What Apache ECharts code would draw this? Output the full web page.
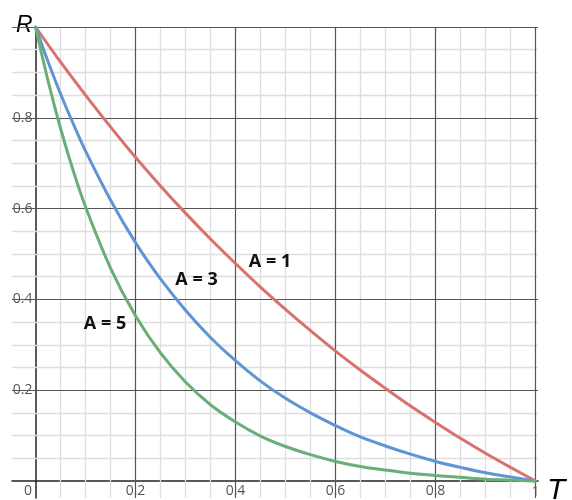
<!DOCTYPE html>
<html>
<head>
<meta charset="utf-8">
<script src="https://cdn.jsdelivr.net/npm/echarts@6/dist/echarts.min.js"></script>
<style>
  html, body { margin: 0; padding: 0; background: #fff; }
  #chart { width: 572px; height: 500px; }
</style>
</head>
<body>
<div id="chart"></div>
<script>
// Sample points along T for each curve
const tA1 = [0, 0.05, 0.1, 0.15, 0.2, 0.25, 0.3, 0.35, 0.4, 0.45, 0.5, 0.55, 0.6, 0.65, 0.7, 0.75, 0.8, 0.85, 0.9, 0.95, 1];
const rA1 = [1, 0.923, 0.850, 0.780, 0.713, 0.650, 0.590, 0.533, 0.479, 0.427, 0.378, 0.331, 0.286, 0.244, 0.204, 0.165, 0.129, 0.094, 0.061, 0.030, 0];

const tA3 = [0, 0.025, 0.05, 0.075, 0.1, 0.15, 0.2, 0.25, 0.3, 0.35, 0.4, 0.45, 0.5, 0.55, 0.6, 0.65, 0.7, 0.75, 0.8, 0.85, 0.9, 0.95, 1];
const rA3 = [1, 0.924, 0.853, 0.788, 0.727, 0.619, 0.525, 0.445, 0.376, 0.316, 0.265, 0.220, 0.182, 0.150, 0.122, 0.097, 0.077, 0.059, 0.043, 0.030, 0.018, 0.009, 0];

const tA5 = [0, 0.025, 0.05, 0.075, 0.1, 0.15, 0.2, 0.25, 0.3, 0.35, 0.4, 0.45, 0.5, 0.55, 0.6, 0.65, 0.7, 0.75, 0.8, 0.85, 0.9, 0.95, 1];
const rA5 = [1, 0.882, 0.777, 0.685, 0.604, 0.469, 0.364, 0.282, 0.218, 0.168, 0.130, 0.099, 0.076, 0.058, 0.043, 0.032, 0.024, 0.017, 0.012, 0.008, 0.004, 0.002, 0];

// Curve names and where their captions sit (data coordinates)
const curveNames = ['A = 1', 'A = 3', 'A = 5'];
const captionAt = [[0.469, 0.4835], [0.322, 0.4427], [0.139, 0.3458]];

// Tick values
const xTicks = [0, 0.2, 0.4, 0.6, 0.8, 1];
const yTicks = [0.2, 0.4, 0.6, 0.8];
const minorX = [0.05, 0.1, 0.15, 0.25, 0.3, 0.35, 0.45, 0.5, 0.55, 0.65, 0.7, 0.75, 0.85, 0.9, 0.95];
const minorY = [0.05, 0.1, 0.15, 0.25, 0.3, 0.35, 0.45, 0.5, 0.55, 0.65, 0.7, 0.75, 0.85, 0.9, 0.95];
const majorX = [0.2, 0.4, 0.6, 0.8, 1];
const majorY = [0.2, 0.4, 0.6, 0.8, 1];

const colors = ['#d9716f', '#5d96d4', '#68ae76'];

const X_MIN = -0.047, X_MAX = 1.005;
const X_END = xTicks[xTicks.length - 1];

const tickFont = { color: '#555', fontFamily: 'Open Sans', fontSize: 14 };

function pairs(xs, ys) { return xs.map((x, i) => [x, ys[i]]); }

function gridLines(xs, ys, color, width) {
  return {
    type: 'line',
    data: [],
    silent: true,
    z: 1,
    markLine: {
      silent: true,
      symbol: ['none', 'none'],
      animation: false,
      label: { show: false },
      lineStyle: { color: color, width: width, type: 'solid' },
      emphasis: { disabled: true },
      data: xs.map(v => ({ xAxis: v })).concat(ys.map(v => ({ yAxis: v })))
    }
  };
}

// Tick label for the far end of the T axis, placed under the axis at T = 1
function endTickLabel() {
  return {
    type: 'scatter',
    data: [[X_END, 0]],
    silent: true,
    z: 3,
    symbol: 'circle',
    symbolSize: 1,
    itemStyle: { color: 'rgba(0,0,0,0)' },
    emphasis: { disabled: true },
    label: Object.assign({
      show: true,
      position: 'inside',
      offset: [0, 11],
      formatter: String(X_END)
    }, tickFont)
  };
}

function curve(i, xs, ys) {
  return {
    type: 'line',
    name: curveNames[i],
    data: pairs(xs, ys),
    smooth: 0.3,
    showSymbol: false,
    z: 5,
    lineStyle: { color: colors[i], width: 3, cap: 'round' },
    itemStyle: { color: colors[i] },
    markPoint: {
      symbol: 'circle',
      symbolSize: 1,
      silent: true,
      animation: false,
      itemStyle: { color: 'rgba(0,0,0,0)' },
      label: {
        show: true,
        position: 'inside',
        formatter: curveNames[i],
        color: '#111',
        fontFamily: 'Open Sans',
        fontWeight: 'bold',
        fontSize: 18
      },
      data: [{ coord: captionAt[i] }]
    }
  };
}

const chart = echarts.init(document.getElementById('chart'), null, { renderer: 'canvas' });
chart.setOption({
  animation: false,
  backgroundColor: '#fff',
  grid: { left: 12, right: 34, top: 27, bottom: 2, containLabel: false, outerBoundsMode: 'none' },
  xAxis: [
    {
      type: 'value',
      min: X_MIN,
      max: X_MAX,
      axisLine: { show: true, onZero: true, lineStyle: { color: '#222', width: 1.5 } },
      axisTick: { show: false },
      splitLine: { show: false },
      axisLabel: Object.assign({
        customValues: xTicks.filter(v => v < X_END),
        margin: -14,
        hideOverlap: false,
        formatter: v => (v === 0 ? '{z|0}' : String(v)),
        rich: {
          z: Object.assign({ padding: [0, 15, 0, 0] }, tickFont)
        }
      }, tickFont)
    },
    {
      // carries only the axis title
      type: 'value',
      min: X_MIN,
      max: X_MAX,
      position: 'bottom',
      name: 'T',
      nameLocation: 'end',
      nameGap: 9,
      nameTextStyle: {
        fontFamily: 'Liberation Sans',
        fontStyle: 'italic',
        fontSize: 30,
        color: '#000',
        align: 'left',
        verticalAlign: 'top',
        padding: [-22, 0, 0, 0]
      },
      axisLine: { show: false, onZero: false },
      axisTick: { show: false },
      axisLabel: { show: false },
      splitLine: { show: false }
    }
  ],
  yAxis: {
    type: 'value',
    min: -0.0375,
    max: 1,
    name: 'R',
    nameLocation: 'end',
    nameGap: 1,
    nameTextStyle: {
      fontFamily: 'Liberation Sans',
      fontStyle: 'italic',
      fontSize: 23,
      color: '#000',
      align: 'right',
      verticalAlign: 'middle',
      padding: [0, 3, 0, 0]
    },
    axisLine: { show: true, onZero: true, lineStyle: { color: '#222', width: 1.5 } },
    axisTick: { show: false },
    splitLine: { show: false },
    axisLabel: Object.assign({
      customValues: yTicks,
      margin: -20.5,
      hideOverlap: false
    }, tickFont)
  },
  series: [
    gridLines(minorX, minorY, '#dedede', 1.3),
    gridLines(majorX, majorY, '#555', 1.2),
    endTickLabel(),
    curve(0, tA1, rA1),
    curve(1, tA3, rA3),
    curve(2, tA5, rA5)
  ]
});
</script>
</body>
</html>
